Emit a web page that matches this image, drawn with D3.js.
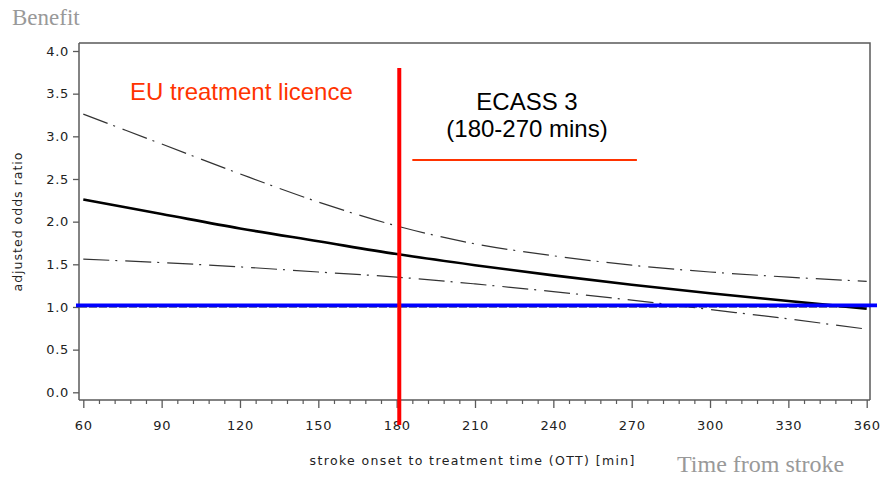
<!DOCTYPE html>
<html>
<head>
<meta charset="utf-8">
<script src="https://cdn.jsdelivr.net/npm/d3@7"></script>
<style>
  html, body { margin: 0; padding: 0; background: #fff; }
  svg { display: block; }
</style>
</head>
<body>
<svg id="chart" width="881" height="479"></svg>
<script>
// Stroke onset-to-treatment time (minutes) and adjusted odds ratio with its confidence band
const ottMinutes = [60, 90, 120, 150, 180, 210, 240, 270, 300, 330, 360];
const oddsRatio  = [2.26, 2.09, 1.92, 1.77, 1.62, 1.49, 1.37, 1.26, 1.16, 1.07, 0.98];
const upperCI    = [3.26, 2.91, 2.56, 2.23, 1.95, 1.74, 1.60, 1.49, 1.41, 1.35, 1.30];
const lowerCI    = [1.56, 1.52, 1.47, 1.41, 1.35, 1.27, 1.18, 1.08, 0.97, 0.86, 0.74];

const xTicks = [60, 90, 120, 150, 180, 210, 240, 270, 300, 330, 360];
const yTicks = [0.0, 0.5, 1.0, 1.5, 2.0, 2.5, 3.0, 3.5, 4.0];

const licenceLimit = 181;        // EU licence cut-off marker
const ecassWindow = [186, 272];  // ECASS 3 window bar
const noEffect = 1.0;

const svg = d3.select("#chart");

const frame = { left: 79, right: 870, top: 43, bottom: 400 };
const x = d3.scaleLinear().domain([60, 360]).range([83.3, 866.7]);
const y = d3.scaleLinear().domain([0, 4]).range([392.3, 51]);

const axisColor = "#5a5a5a";
const tickFont = "'DejaVu Sans', Arial, sans-serif";

// Plot frame (top and right sides)
svg.append("path")
  .attr("d", `M${frame.left},${frame.top}H${frame.right}V${frame.bottom}`)
  .attr("fill", "none").attr("stroke", axisColor).attr("stroke-width", 1.5);

// Y axis
const yAxis = d3.axisLeft(y).tickValues(yTicks).tickFormat(d3.format(".1f"))
  .tickSizeInner(6).tickSizeOuter(0).tickPadding(4);
const gy = svg.append("g").attr("transform", `translate(${frame.left},0)`).call(yAxis);
gy.select(".domain").attr("d", `M0,${frame.top}V${frame.bottom}`)
  .attr("stroke", axisColor).attr("stroke-width", 1.5);
gy.selectAll(".tick line").attr("stroke", axisColor).attr("stroke-width", 1.3);
gy.selectAll(".tick text").attr("fill", "#222").style("font-family", tickFont)
  .style("font-size", "13px").style("letter-spacing", "0.7px");

// X axis with minor ticks every 6 minutes
const xMinor = d3.range(60, 361, 6).filter(v => (v - 60) % 30 !== 0);
const gxMinor = svg.append("g").attr("transform", `translate(0,${frame.bottom})`)
  .call(d3.axisBottom(x).tickValues(xMinor).tickFormat("").tickSizeInner(4).tickSizeOuter(0));
gxMinor.select(".domain").remove();
gxMinor.selectAll(".tick line").attr("stroke", axisColor).attr("stroke-width", 1.2);

const xAxis = d3.axisBottom(x).tickValues(xTicks).tickFormat(d3.format("d"))
  .tickSizeInner(8).tickSizeOuter(0).tickPadding(13);
const gx = svg.append("g").attr("transform", `translate(0,${frame.bottom})`).call(xAxis);
gx.select(".domain").attr("d", `M${frame.left},0H${frame.right}`)
  .attr("stroke", axisColor).attr("stroke-width", 1.5);
gx.selectAll(".tick line").attr("stroke", axisColor).attr("stroke-width", 1.3);
gx.selectAll(".tick text").attr("fill", "#222").style("font-family", tickFont)
  .style("font-size", "13px").style("letter-spacing", "0.7px");

// Axis titles
svg.append("text")
  .attr("x", 472).attr("y", 465).attr("text-anchor", "middle")
  .attr("textLength", 325).attr("lengthAdjust", "spacing")
  .style("font-family", tickFont).style("font-size", "12.5px").attr("fill", "#222")
  .text("stroke onset to treatment time (OTT) [min]");

svg.append("text")
  .attr("transform", "translate(22,222) rotate(-90)").attr("text-anchor", "middle")
  .attr("textLength", 139).attr("lengthAdjust", "spacing")
  .style("font-family", tickFont).style("font-size", "12.5px").attr("fill", "#222")
  .text("adjusted odds ratio");

// Curves
const rows = ottMinutes.map((t, i) => ({ t, or: oddsRatio[i], lo: lowerCI[i], hi: upperCI[i] }));
const lineOf = key => d3.line().x(d => x(d.t)).y(d => y(d[key])).curve(d3.curveMonotoneX);

// Reference line at odds ratio 1 (dashed) with the highlighted no-effect line
svg.append("line")
  .attr("x1", frame.left).attr("x2", frame.right)
  .attr("y1", y(noEffect)).attr("y2", y(noEffect))
  .attr("stroke", "#666").attr("stroke-width", 1.5).attr("stroke-dasharray", "8,2");

svg.append("path").datum(rows).attr("d", lineOf("hi"))
  .attr("fill", "none").attr("stroke", "#333").attr("stroke-width", 1.2)
  .attr("stroke-dasharray", "26,6,2,8");
svg.append("path").datum(rows).attr("d", lineOf("lo"))
  .attr("fill", "none").attr("stroke", "#333").attr("stroke-width", 1.2)
  .attr("stroke-dasharray", "26,6,2,8");
svg.append("path").datum(rows).attr("d", lineOf("or"))
  .attr("fill", "none").attr("stroke", "#000").attr("stroke-width", 2.6);

svg.append("line")
  .attr("x1", 76).attr("x2", 877)
  .attr("y1", y(noEffect) - 1.6).attr("y2", y(noEffect) - 1.6)
  .attr("stroke", "#0000ff").attr("stroke-width", 3.6);

// EU licence marker
svg.append("line")
  .attr("x1", x(licenceLimit)).attr("x2", x(licenceLimit))
  .attr("y1", 68).attr("y2", 425)
  .attr("stroke", "#ff0000").attr("stroke-width", 4);

svg.append("text")
  .attr("x", 130).attr("y", 100)
  .style("font-family", "Arial, 'Liberation Sans', sans-serif").style("font-size", "24px")
  .attr("fill", "#ff3300").text("EU treatment licence");

// ECASS 3 window
svg.append("text")
  .attr("x", 527).attr("y", 109.5).attr("text-anchor", "middle")
  .style("font-family", "Arial, 'Liberation Sans', sans-serif").style("font-size", "24px")
  .attr("fill", "#000").text("ECASS 3");
svg.append("text")
  .attr("x", 527).attr("y", 137).attr("text-anchor", "middle")
  .style("font-family", "Arial, 'Liberation Sans', sans-serif").style("font-size", "24px")
  .attr("fill", "#000").text("(180-270 mins)");
svg.append("line")
  .attr("x1", x(ecassWindow[0])).attr("x2", x(ecassWindow[1]))
  .attr("y1", 160).attr("y2", 160)
  .attr("stroke", "#ff3300").attr("stroke-width", 2);

// Corner annotations
svg.append("text")
  .attr("x", 12).attr("y", 25)
  .style("font-family", "'Liberation Serif', 'Times New Roman', serif").style("font-size", "23px")
  .attr("fill", "#999").text("Benefit");
svg.append("text")
  .attr("x", 677).attr("y", 472)
  .style("font-family", "'Liberation Serif', 'Times New Roman', serif").style("font-size", "24px")
  .attr("fill", "#999").text("Time from stroke");
</script>
</body>
</html>
